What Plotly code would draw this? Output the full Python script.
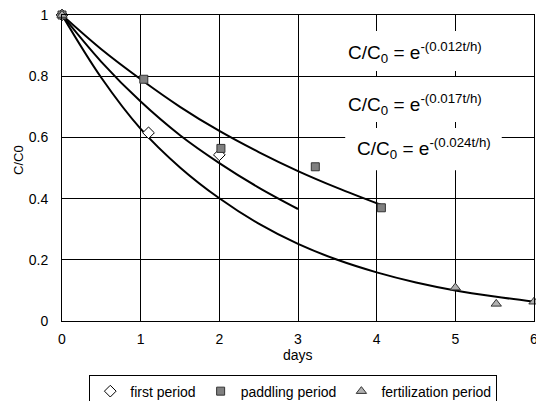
import plotly.graph_objects as go

# ---- data ----
# fitted curves
days_first_fit = [0, 0.5, 1, 1.5, 2, 2.5, 3]
cc_first_fit = [1.0, 0.847, 0.717, 0.607, 0.516, 0.436, 0.366]

days_padd_fit = [0, 0.5, 1, 1.5, 2, 2.5, 3, 3.5, 4.05]
cc_padd_fit = [1.0, 0.888, 0.790, 0.700, 0.621, 0.552, 0.490, 0.435, 0.380]

days_fert_fit = [0, 0.5, 1, 1.5, 2, 2.5, 3, 3.5, 4, 4.5, 5, 5.5, 6]
cc_fert_fit = [1.0, 0.795, 0.628, 0.502, 0.401, 0.318, 0.252, 0.200, 0.159, 0.126, 0.100, 0.080, 0.063]

# measured points
days_first = [0, 1.1, 2.0]
cc_first = [1.0, 0.615, 0.543]

days_padd = [0, 1.04, 2.02, 3.22, 4.06]
cc_padd = [1.0, 0.79, 0.564, 0.504, 0.37]

days_fert = [0, 5.0, 5.52, 6.0]
cc_fert = [1.0, 0.109, 0.056, 0.063]

x_ticks = [0, 1, 2, 3, 4, 5, 6]
y_ticks = [0, 0.2, 0.4, 0.6, 0.8, 1]
y_tick_text = ["0", "0.2", "0.4", "0.6", "0.8", "1"]

labels = ["first period", "paddling period", "fertilization period"]
equations = [
    "C/C<sub>0</sub> = e<sup>-(0.012t/h)</sup>",
    "C/C<sub>0</sub> = e<sup>-(0.017t/h)</sup>",
    "C/C<sub>0</sub> = e<sup>-(0.024t/h)</sup>",
]

FONT = "Liberation Sans, Arial, sans-serif"

fig = go.Figure()

for xs, ys in [(days_padd_fit, cc_padd_fit), (days_first_fit, cc_first_fit), (days_fert_fit, cc_fert_fit)]:
    fig.add_trace(go.Scatter(x=xs, y=ys, mode="lines", line=dict(color="black", width=2, shape="spline"),
                             showlegend=False, hoverinfo="skip"))

fig.add_trace(go.Scatter(x=days_first, y=cc_first, mode="markers", name=labels[0], cliponaxis=False,
                         marker=dict(symbol="diamond", size=9, color="white", line=dict(color="black", width=1))))
fig.add_trace(go.Scatter(x=days_padd, y=cc_padd, mode="markers", name=labels[1], cliponaxis=False,
                         marker=dict(symbol="square", size=8, color="#808080", line=dict(color="#333333", width=1))))
fig.add_trace(go.Scatter(x=days_fert, y=cc_fert, mode="markers", name=labels[2], cliponaxis=False,
                         marker=dict(symbol="triangle-up", size=9, color="#b0b0b0", line=dict(color="#333333", width=1))))

# white boxes behind the equations (between gridlines and traces)
boxes = [(3.47, 5.69, 0.817, 0.948), (3.47, 5.69, 0.650, 0.797), (3.60, 5.59, 0.493, 0.631)]
shapes = [dict(type="rect", xref="x", yref="y", x0=a, x1=b, y0=c, y1=d, layer="between",
               fillcolor="white", line=dict(width=0)) for a, b, c, d in boxes]

ann_pos = [(4.49, 0.877), (4.49, 0.708), (4.60, 0.563)]
annotations = []
for (ax, ay), txt in zip(ann_pos, equations):
    annotations.append(dict(x=ax, y=ay, xref="x", yref="y", text=txt, showarrow=False,
                            font=dict(family=FONT, size=19, color="black"),
                            xanchor="center", yanchor="middle"))

annotations.append(dict(x=0.5, y=-0.11, xref="paper", yref="paper", text="days", showarrow=False,
                        font=dict(family=FONT, size=14, color="black"), xanchor="center", yanchor="middle"))
annotations.append(dict(x=-0.092, y=0.525, xref="paper", yref="paper", text="C/C0", showarrow=False, textangle=-90,
                        font=dict(family=FONT, size=13, color="black"), xanchor="center", yanchor="middle"))

fig.update_layout(
    width=536, height=401,
    margin=dict(l=62, r=2, t=15, b=80, autoexpand=False),
    paper_bgcolor="white", plot_bgcolor="white",
    font=dict(family=FONT, size=14, color="black"),
    annotations=annotations, shapes=shapes,
    legend=dict(orientation="h", x=0.49, xanchor="center", y=-0.175, yanchor="top",
                bordercolor="black", borderwidth=1, bgcolor="white",
                font=dict(family=FONT, size=14, color="black"), itemwidth=30),
    xaxis=dict(range=[0, 6], tickmode="array", tickvals=x_ticks, ticktext=[str(v) for v in x_ticks],
               showgrid=True, gridcolor="#000000", gridwidth=1, zeroline=False,
               showline=True, linecolor="black", linewidth=1, mirror=True, automargin=False,
               ticklabeloverflow="allow",
               ticks="outside", ticklen=5, tickcolor="rgba(0,0,0,0)", tickfont=dict(size=14)),
    yaxis=dict(range=[0, 1], tickmode="array", tickvals=y_ticks, ticktext=y_tick_text,
               showgrid=True, gridcolor="#000000", gridwidth=1, zeroline=False,
               showline=True, linecolor="black", linewidth=1, mirror=True, automargin=False,
               ticks="outside", ticklen=10, tickcolor="rgba(0,0,0,0)", tickfont=dict(size=14)),
)

fig.write_html("out.html", config={"displayModeBar": False},
               post_script="document.body.style.margin='0';document.body.style.padding='0';")
